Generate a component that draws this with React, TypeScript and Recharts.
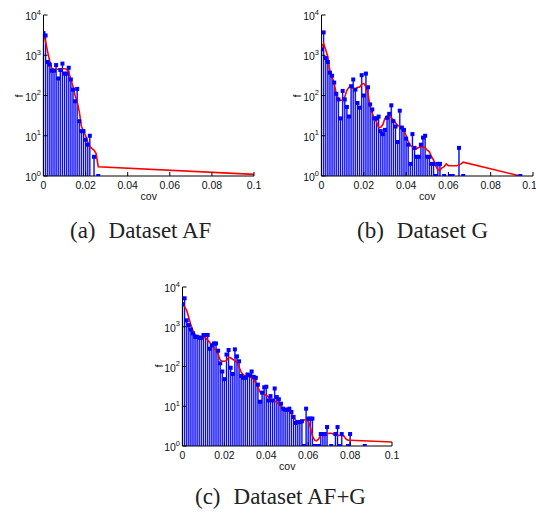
import { ComposedChart, ErrorBar, Line, Scatter, XAxis, YAxis } from "recharts";

const BIN = 0.001;
const X_TICKS = [0, 0.02, 0.04, 0.06, 0.08, 0.1];
const Y_TICKS = [1, 10, 100, 1000, 10000];
const SANS = "Liberation Sans, Arial, Helvetica, sans-serif";
const SERIF = "Liberation Serif, Times New Roman, serif";

// (a) Dataset AF — histogram bins (index * BIN) and counts
const AF_BINS = [0, 1, 2, 3, 4, 5, 6, 7, 8, 9, 10, 11, 12, 13, 14, 15, 16, 17, 18, 19, 20, 21, 22, 24, 26];
const AF_FREQ = [3550, 3100, 680, 590, 415, 415, 570, 265, 430, 620, 350, 350, 490, 250, 140, 72, 146, 23, 13, 13, 8, 6, 10, 3, 1];
const AF_FIT_BINS = [0, 1, 2, 3, 4, 5, 6, 7, 8, 9, 10, 11, 12, 13, 14, 15, 16, 17, 18, 19, 20, 21, 22, 23, 24, 25, 26, 100];
const AF_FIT = [3300, 2200, 1200, 700, 470, 430, 450, 450, 440, 460, 460, 450, 380, 250, 170, 100, 70, 40, 17, 13, 10, 7, 5.5, 4.8, 4.4, 3.6, 1.7, 1.1];

// (b) Dataset G
const G_BINS = [0, 1, 2, 3, 4, 5, 6, 7, 8, 9, 10, 11, 12, 13, 14, 15, 16, 17, 18, 19, 20, 21, 22, 23, 24, 25, 26, 27, 28, 29, 30, 31, 32, 33, 34, 35, 36, 37, 38, 39, 40, 41, 42, 43, 44, 45, 46, 47, 48, 49, 50, 51, 52, 53, 54, 55, 56, 58, 61, 62, 65, 67, 94];
const G_FREQ = [1400, 3700, 850, 680, 370, 310, 210, 110, 80, 27, 130, 80, 52, 30, 170, 250, 140, 65, 50, 320, 100, 350, 160, 60, 45, 27, 27, 30, 13, 11, 14, 28, 35, 57, 23, 17, 7, 42, 16, 14, 8.5, 6, 2, 11, 5, 3, 3, 6, 9, 10, 3, 3, 2, 2, 1, 2, 2, 1, 1, 1, 5, 1, 1];
const G_FIT_BINS = [0, 1, 2, 3, 4, 5, 6, 7, 8, 9, 10, 11, 12, 13, 14, 15, 16, 17, 18, 19, 20, 21, 22, 23, 24, 25, 26, 27, 28, 29, 30, 31, 32, 33, 34, 35, 36, 37, 38, 39, 40, 41, 42, 43, 44, 45, 46, 47, 48, 49, 50, 51, 52, 53, 54, 55, 56, 57, 58, 59, 60, 62, 64, 66, 67, 94];
const G_FIT = [1600, 1950, 1350, 920, 390, 290, 200, 110, 84, 76, 76, 92, 135, 160, 160, 150, 135, 160, 160, 190, 200, 165, 110, 52, 36, 27, 22, 16, 16, 19, 27, 31, 31, 28, 25, 21, 18, 17, 16, 14, 10, 7, 5.8, 5.3, 4.5, 4.8, 5.1, 5.3, 5.3, 5, 4.4, 4, 3, 2.5, 1.8, 1.4, 1.4, 1.6, 1.7, 2, 1.8, 1.8, 1.8, 2, 2.2, 1];

// (c) Dataset AF+G
const AFG_BINS = [0, 1, 2, 3, 4, 5, 6, 7, 8, 9, 10, 11, 12, 13, 14, 15, 16, 17, 18, 19, 20, 21, 22, 23, 24, 25, 26, 27, 28, 29, 30, 31, 32, 33, 34, 35, 36, 37, 38, 39, 40, 41, 42, 43, 44, 45, 46, 47, 48, 49, 50, 51, 52, 53, 54, 55, 56, 57, 58, 59, 60, 61, 62, 63, 64, 65, 66, 67, 68, 69, 71, 73, 74, 75, 76, 79, 80, 87];
const AFG_FREQ = [3700, 5200, 1450, 1100, 850, 680, 560, 560, 530, 530, 620, 620, 620, 280, 340, 380, 380, 250, 120, 75, 48, 200, 260, 93, 65, 270, 180, 135, 58, 52, 52, 63, 60, 75, 55, 52, 35, 13, 22, 30, 31, 14, 18, 14, 28, 17, 15, 11.6, 8.7, 8.2, 8.2, 8.7, 7.2, 5.4, 3.8, 4, 4, 4.2, 1, 8.7, 4.9, 4.9, 4.9, 1, 1, 1, 2, 2, 2, 3, 1, 2, 3, 1, 2, 1, 2, 1];
const AFG_FIT_BINS = [0, 1, 2, 3, 4, 5, 6, 7, 8, 9, 10, 11, 12, 13, 14, 15, 16, 17, 18, 19, 20, 21, 22, 23, 24, 25, 26, 27, 28, 29, 30, 31, 32, 33, 34, 35, 36, 37, 38, 39, 40, 41, 42, 43, 44, 45, 46, 47, 48, 49, 50, 51, 52, 53, 54, 55, 56, 57, 58, 59, 60, 61, 62, 63, 64, 65, 66, 67, 68, 69, 70, 71, 72, 73, 74, 75, 76, 77, 78, 79, 80, 100];
const AFG_FIT = [3700, 3200, 2600, 1700, 1100, 780, 640, 570, 540, 530, 550, 520, 460, 400, 340, 290, 250, 200, 145, 135, 135, 140, 170, 165, 150, 143, 125, 97, 72, 62, 57, 57, 56, 52, 47, 38, 30, 23, 21, 20, 19, 17, 15, 14, 13.5, 12.5, 11, 10, 9, 8, 7.8, 7.4, 6.5, 5.3, 4.5, 4, 4, 4.2, 4.5, 4.6, 4.2, 3, 1.8, 1.4, 1.35, 1.5, 1.9, 2, 2, 2, 2.1, 2.1, 2, 1.9, 1.85, 1.85, 1.85, 1.8, 1.5, 1.4, 1.4, 1.26];

const toStems = (bins: number[], freq: number[]) =>
  bins.map((b, i) => ({ x: +(b * BIN).toFixed(4), y: freq[i], err: [freq[i] - 1, 0] }));
const toFit = (bins: number[], vals: number[]) =>
  bins.map((b, i) => ({ x: +(b * BIN).toFixed(4), y: vals[i] }));

const Square = (p: any) => <rect x={p.cx - 2} y={p.cy - 2} width={4} height={4} fill="#0000ff" />;
const NoLabel = () => <g />;

const PowTick = (p: any) => {
  const exp = Math.round(Math.log10(p.payload.value));
  return (
    <text x={p.x} y={p.y} textAnchor="end" fontSize={10.5} fontFamily={SANS} fill="#111">
      <tspan dy={5}>10</tspan>
      <tspan dy={-5.5} fontSize={7.5}>{exp}</tspan>
    </text>
  );
};

interface PanelProps {
  width: number;
  height: number;
  margin: { top: number; right: number; bottom: number; left: number };
  yWidth: number;
  bins: number[];
  freq: number[];
  fitBins: number[];
  fit: number[];
}

function Panel({ width, height, margin, yWidth, bins, freq, fitBins, fit }: PanelProps) {
  return (
    <ComposedChart width={width} height={height} margin={margin}>
      <XAxis
        dataKey="x"
        type="number"
        domain={[0, 0.1]}
        ticks={X_TICKS}
        allowDataOverflow
        height={29}
        tickSize={-4}
        tickMargin={10}
        tickFormatter={(v) => String(v)}
        tick={{ fontSize: 10.5, fill: "#111", fontFamily: SANS }}
        axisLine={{ stroke: "#000" }}
        tickLine={{ stroke: "#000" }}
        label={{ value: "cov", position: "insideBottom", offset: 5, fontSize: 10.5, fill: "#111", fontFamily: SANS }}
      />
      <XAxis
        xAxisId="top"
        orientation="top"
        type="number"
        domain={[0, 0.1]}
        ticks={X_TICKS}
        allowDataOverflow
        height={0}
        tickSize={-4}
        tick={NoLabel}
        axisLine={{ stroke: "#000" }}
        tickLine={{ stroke: "#000" }}
      />
      <YAxis
        dataKey="y"
        type="number"
        scale="log"
        domain={[1, 10000]}
        ticks={Y_TICKS}
        allowDataOverflow
        width={yWidth}
        tickSize={-4}
        tickMargin={6.5}
        tick={PowTick}
        axisLine={{ stroke: "#000" }}
        tickLine={{ stroke: "#000" }}
      />
      <YAxis
        yAxisId="right"
        orientation="right"
        type="number"
        scale="log"
        domain={[1, 10000]}
        ticks={Y_TICKS}
        allowDataOverflow
        width={0}
        tickSize={-4}
        tick={NoLabel}
        axisLine={{ stroke: "#000" }}
        tickLine={{ stroke: "#000" }}
      />
      <Scatter data={toStems(bins, freq)} dataKey="y" shape={Square} isAnimationActive={false}>
        <ErrorBar dataKey="err" direction="y" width={0} stroke="#8c8cff" strokeWidth={1.7} isAnimationActive={false} />
        <ErrorBar dataKey="err" direction="y" width={0} stroke="#0000ff" strokeWidth={1} isAnimationActive={false} />
      </Scatter>
      <Line
        data={toFit(fitBins, fit)}
        dataKey="y"
        type="linear"
        stroke="#ff0000"
        strokeWidth={1.6}
        dot={false}
        activeDot={false}
        isAnimationActive={false}
      />
    </ComposedChart>
  );
}

export default function App() {
  return (
    <div style={{ position: "absolute", left: 0, top: 0, width: 536, height: 513, background: "#fff", overflow: "hidden" }}>
      <div style={{ position: "absolute", left: 0, top: 0 }}>
        <Panel width={268} height={205} margin={{ top: 15, right: 14, bottom: 0, left: 0 }} yWidth={43.5}
          bins={AF_BINS} freq={AF_FREQ} fitBins={AF_FIT_BINS} fit={AF_FIT} />
      </div>
      <div style={{ position: "absolute", left: 268, top: 0 }}>
        <Panel width={268} height={205} margin={{ top: 15, right: 3, bottom: 0, left: 0 }} yWidth={53.5}
          bins={G_BINS} freq={G_FREQ} fitBins={G_FIT_BINS} fit={G_FIT} />
      </div>
      <div style={{ position: "absolute", left: 150, top: 260 }}>
        <Panel width={250} height={215} margin={{ top: 27, right: 8, bottom: 0, left: 0 }} yWidth={32.5}
          bins={AFG_BINS} freq={AFG_FREQ} fitBins={AFG_FIT_BINS} fit={AFG_FIT} />
      </div>
      <svg width={536} height={513} style={{ position: "absolute", left: 0, top: 0, pointerEvents: "none" }}>
        <g fontFamily={SANS} fontSize={11} fill="#111" textAnchor="middle" dominantBaseline="central">
          <text x={19} y={96} transform="rotate(-90 19 96)">f</text>
          <text x={297} y={96} transform="rotate(-90 297 96)">f</text>
          <text x={159} y={366} transform="rotate(-90 159 366)">f</text>
        </g>
        <g fontFamily={SERIF} fontSize={23} fill="#222">
          <text x={70} y={238}>(a)<tspan dx={13}>Dataset AF</tspan></text>
          <text x={357} y={238}>(b)<tspan dx={13}>Dataset G</tspan></text>
          <text x={195} y={504}>(c)<tspan dx={13}>Dataset AF+G</tspan></text>
        </g>
      </svg>
    </div>
  );
}
